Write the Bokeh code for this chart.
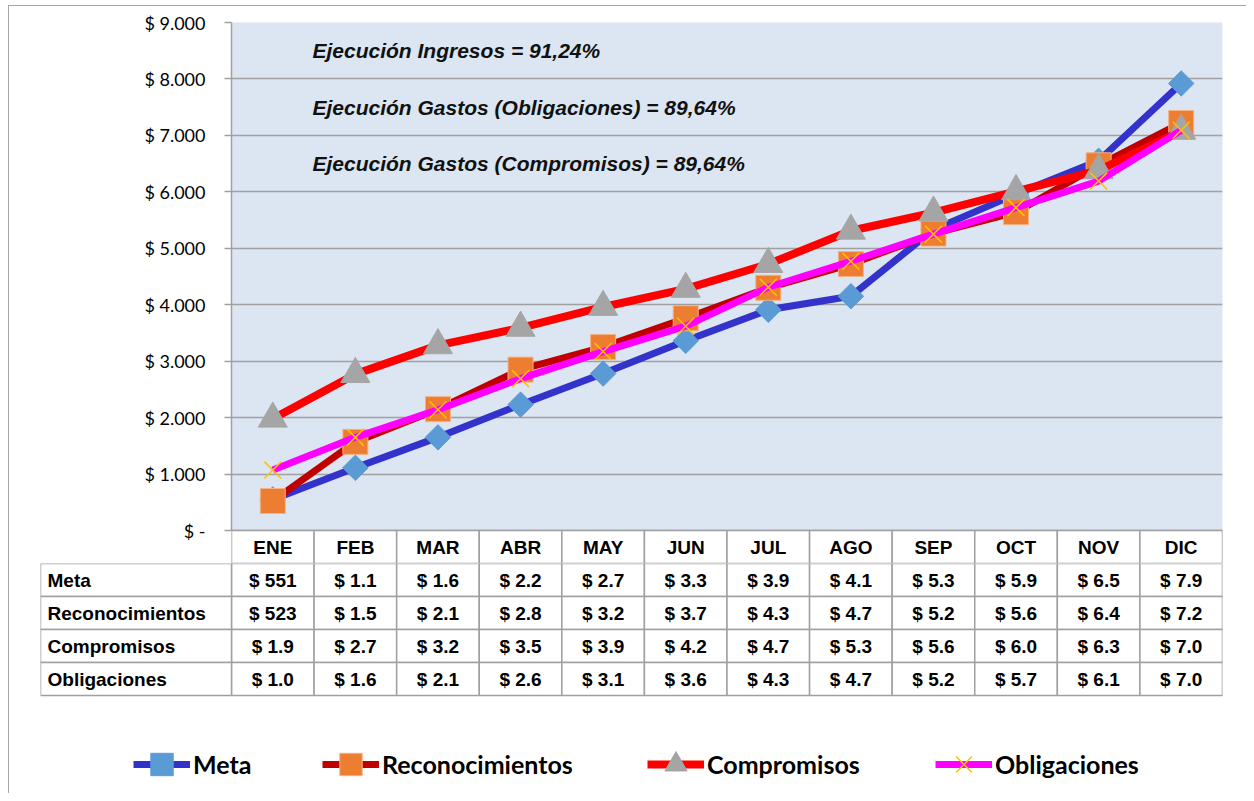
import math
from bokeh.plotting import figure
from bokeh.layouts import column
from bokeh.models import Range1d, FixedTicker, Label, Legend, LegendItem, ColumnDataSource
from bokeh.core.properties import value
from bokeh.embed import file_html
from bokeh.resources import INLINE

# ---------------- data ----------------
months = ["ENE", "FEB", "MAR", "ABR", "MAY", "JUN", "JUL", "AGO", "SEP", "OCT", "NOV", "DIC"]
meta = [551, 1110, 1650, 2230, 2780, 3360, 3910, 4150, 5330, 5960, 6550, 7920]
reconocimientos = [523, 1570, 2150, 2850, 3250, 3760, 4300, 4720, 5260, 5640, 6470, 7220]
compromisos = [1980, 2770, 3280, 3590, 3960, 4280, 4720, 5310, 5630, 6010, 6380, 7080]
obligaciones = [1070, 1650, 2140, 2690, 3170, 3620, 4310, 4770, 5250, 5720, 6190, 7090]

meta_lbl = ["$ 551", "$ 1.1", "$ 1.6", "$ 2.2", "$ 2.7", "$ 3.3", "$ 3.9", "$ 4.1", "$ 5.3", "$ 5.9", "$ 6.5", "$ 7.9"]
rec_lbl = ["$ 523", "$ 1.5", "$ 2.1", "$ 2.8", "$ 3.2", "$ 3.7", "$ 4.3", "$ 4.7", "$ 5.2", "$ 5.6", "$ 6.4", "$ 7.2"]
comp_lbl = ["$ 1.9", "$ 2.7", "$ 3.2", "$ 3.5", "$ 3.9", "$ 4.2", "$ 4.7", "$ 5.3", "$ 5.6", "$ 6.0", "$ 6.3", "$ 7.0"]
obl_lbl = ["$ 1.0", "$ 1.6", "$ 2.1", "$ 2.6", "$ 3.1", "$ 3.6", "$ 4.3", "$ 4.7", "$ 5.2", "$ 5.7", "$ 6.1", "$ 7.0"]

row_names = ["Meta", "Reconocimientos", "Compromisos", "Obligaciones"]
row_labels = [meta_lbl, rec_lbl, comp_lbl, obl_lbl]

y_ticks = [0, 1000, 2000, 3000, 4000, 5000, 6000, 7000, 8000, 9000]
y_tick_labels = ["$ -", "$ 1.000", "$ 2.000", "$ 3.000", "$ 4.000", "$ 5.000",
                 "$ 6.000", "$ 7.000", "$ 8.000", "$ 9.000"]

notes = ["Ejecución Ingresos = 91,24%",
         "Ejecución Gastos (Obligaciones) =  89,64%",
         "Ejecución Gastos (Compromisos) =  89,64%"]
note_y = [8500, 7500, 6500]

# ---------------- styles ----------------
BG = "#DCE6F2"
GRID = "#A0A0A0"
TABLE_FONT = "Liberation Sans"
series = [
    dict(name="Meta", data=meta, line="#3333CC", lw=7, marker="square", angle=math.pi / 4,
         size=18, fill="#5B9BD5", mline=None, mlw=1),
    dict(name="Reconocimientos", data=reconocimientos, line="#C00000", lw=7, marker="square", angle=0,
         size=25, fill="#ED7D31", mline="#F4B183", mlw=1),
    dict(name="Compromisos", data=compromisos, line="#FF0000", lw=8, marker="triangle", angle=0,
         size=29, fill="#A5A5A5", mline=None, mlw=1),
    dict(name="Obligaciones", data=obligaciones, line="#FF00FF", lw=7, marker="x", angle=0,
         size=24, fill=None, mline="#FFC000", mlw=1.5),
]

x_idx = list(range(len(months)))

# ---------------- layout geometry (pixels) ----------------
W = 1237
chart_px = 508          # 0..9000
header_px = 33
cat_px = 991 / 12
ymax = 9000
ymin = -ymax * header_px / chart_px

# ---------------- chart figure ----------------
pa = figure(width=W, height=16 + chart_px + header_px, output_backend="svg", toolbar_location=None,
            x_range=Range1d(-0.5, 11.5), y_range=Range1d(ymin, ymax),
            x_axis_location=None, title=None,
            min_border_left=222, min_border_right=24, min_border_top=16, min_border_bottom=0)
pa.background_fill_color = BG
pa.border_fill_color = "white"
pa.outline_line_color = None
pa.xgrid.visible = False
pa.ygrid.ticker = FixedTicker(ticks=y_ticks)
pa.ygrid.bounds = (0, ymax)
pa.ygrid.grid_line_color = GRID
pa.ygrid.grid_line_width = 1.5

ax = pa.yaxis[0]
ax.ticker = FixedTicker(ticks=y_ticks)
ax.major_label_overrides = {t: l for t, l in zip(y_ticks, y_tick_labels)}
ax.bounds = (0, ymax)
ax.axis_line_color = GRID
ax.axis_line_width = 1.5
ax.major_tick_line_color = GRID
ax.major_tick_line_width = 1.5
ax.major_tick_in = 0
ax.major_tick_out = 7
ax.minor_tick_line_color = None
ax.major_label_standoff = 19
ax.major_label_text_font = "Lato"
ax.major_label_text_font_size = "18px"
ax.major_label_text_color = "black"

# header row of table (month names)
hdr_y = ymin / 2
hdr_h = -ymin
pa.rect(x=x_idx, y=[hdr_y] * 12, width=1, height=hdr_h, fill_color="white",
        line_color=GRID, line_width=1.5)
pa.text(x=x_idx, y=[hdr_y] * 12, text=months, text_align="center", text_baseline="middle",
        text_font=value(TABLE_FONT), text_font_style="bold", text_font_size="19px", text_color="black")

# series
for s in series:
    src = ColumnDataSource(dict(x=x_idx, y=s["data"]))
    pa.line("x", "y", source=src, line_color=s["line"], line_width=s["lw"], line_join="round")
    if s["marker"] == "x":
        pa.scatter("x", "y", source=src, marker="x", size=s["size"], line_color=s["mline"],
                   line_width=s["mlw"])
    else:
        pa.scatter("x", "y", source=src, marker=s["marker"], size=s["size"], angle=s["angle"],
                   fill_color=s["fill"], line_color=s["mline"] or s["fill"], line_width=s["mlw"])

for t, yv in zip(notes, note_y):
    pa.add_layout(Label(x=81, x_units="screen", y=yv, text=t, text_font=TABLE_FONT,
                        text_font_style="bold italic", text_font_size="21px",
                        text_baseline="middle", text_color="#111111"))

# ---------------- table + legend figure ----------------
lab_w = 191 / cat_px
x0 = -0.5 - lab_w
legend_px = 98
row_px = 33
pb = figure(width=W, height=4 * row_px + legend_px, output_backend="svg", toolbar_location=None,
            x_range=Range1d(x0, 11.5), y_range=Range1d(-legend_px / row_px, 4),
            x_axis_location=None, y_axis_location=None, title=None,
            min_border_left=31, min_border_right=24, min_border_top=0, min_border_bottom=0)
pb.background_fill_color = "white"
pb.border_fill_color = "white"
pb.outline_line_color = None
pb.grid.visible = False

row_y = [3.5, 2.5, 1.5, 0.5]
cx, cy, ct = [], [], []
for r, labs in enumerate(row_labels):
    for i, l in enumerate(labs):
        cx.append(i)
        cy.append(row_y[r])
        ct.append(l)
pb.rect(x=cx, y=cy, width=1, height=1, fill_color="white", line_color=GRID, line_width=1.5)
pb.rect(x=[(x0 - 0.5) / 2] * 4, y=row_y, width=lab_w, height=1, fill_color="white",
        line_color=GRID, line_width=1.5)
pb.text(x=cx, y=cy, text=ct, text_align="center", text_baseline="middle",
        text_font=value(TABLE_FONT), text_font_style="bold", text_font_size="19px", text_color="black")
pb.text(x=[x0] * 4, y=row_y, text=row_names, x_offset=7, text_align="left", text_baseline="middle",
        text_font=value(TABLE_FONT), text_font_style="bold", text_font_size="19px", text_color="black")

# legend (proxy renderers, hidden)
leg_x = [93, 282, 607, 895]
for s, lx in zip(series, leg_x):
    src = ColumnDataSource(dict(x=x_idx, y=s["data"]))
    lr = pb.line("x", "y", source=src, line_color=s["line"], line_width=s["lw"], visible=False)
    if s["marker"] == "x":
        mr = pb.scatter("x", "y", source=src, marker="x", size=s["size"], line_color=s["mline"],
                        line_width=s["mlw"], visible=False)
    else:
        mr = pb.scatter("x", "y", source=src, marker=s["marker"], size=s["size"], angle=s["angle"],
                        fill_color=s["fill"], line_color=s["mline"] or s["fill"], line_width=s["mlw"],
                        visible=False)
    leg = Legend(items=[LegendItem(label=s["name"], renderers=[lr, mr])], location=(lx, 1),
                 orientation="horizontal", glyph_width=57, glyph_height=56, label_standoff=3,
                 padding=0, margin=0, border_line_color=None, background_fill_alpha=0,
                 label_text_font="Lato", label_text_font_style="bold", label_text_font_size="25px",
                 label_text_color="black")
    pb.add_layout(leg)

# keep each figure's own frame (do not align frames across the column)
for p in (pa, pb):
    if "frame_align" in p.properties():
        p.frame_align = False

layout = column(pa, pb, spacing=0,
                styles={"margin-left": "8px", "margin-top": "5px",
                        "border-top": "1px solid #A6A6A6", "border-left": "1px solid #A6A6A6"})

open("out.html", "w").write(file_html(layout, INLINE))
